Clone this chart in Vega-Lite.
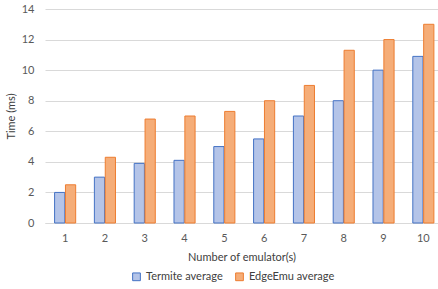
{
  "$schema": "https://vega.github.io/schema/vega-lite/v6.json",
  "width": 393,
  "height": 214,
  "autosize": {"type": "none"},
  "padding": {"left": 45, "top": 9, "right": 0, "bottom": 66},
  "background": "white",
  "config": {
    "view": {"stroke": null},
    "font": "Lato",
    "axis": {"labelFont": "Lato", "titleFont": "Lato", "labelColor": "#595959", "titleColor": "#404040", "labelFontSize": 11, "titleFontSize": 11, "titleFontWeight": "normal"}
  },
  "data": {
    "values": [
      {"n": "1", "series": "Termite average", "t": 2.0},
      {"n": "2", "series": "Termite average", "t": 3.0},
      {"n": "3", "series": "Termite average", "t": 3.9},
      {"n": "4", "series": "Termite average", "t": 4.1},
      {"n": "5", "series": "Termite average", "t": 5.0},
      {"n": "6", "series": "Termite average", "t": 5.5},
      {"n": "7", "series": "Termite average", "t": 7.0},
      {"n": "8", "series": "Termite average", "t": 8.0},
      {"n": "9", "series": "Termite average", "t": 10.0},
      {"n": "10", "series": "Termite average", "t": 10.9},
      {"n": "1", "series": "EdgeEmu average", "t": 2.5},
      {"n": "2", "series": "EdgeEmu average", "t": 4.3},
      {"n": "3", "series": "EdgeEmu average", "t": 6.8},
      {"n": "4", "series": "EdgeEmu average", "t": 7.0},
      {"n": "5", "series": "EdgeEmu average", "t": 7.3},
      {"n": "6", "series": "EdgeEmu average", "t": 8.0},
      {"n": "7", "series": "EdgeEmu average", "t": 9.0},
      {"n": "8", "series": "EdgeEmu average", "t": 11.3},
      {"n": "9", "series": "EdgeEmu average", "t": 12.0},
      {"n": "10", "series": "EdgeEmu average", "t": 13.0}
    ]
  },
  "mark": {"type": "bar", "strokeWidth": 1},
  "encoding": {
    "x": {
      "field": "n", "type": "ordinal", "sort": null,
      "scale": {"paddingInner": 0.47, "paddingOuter": 0.172, "align": 0.7},
      "axis": {"title": "Number of emulator(s)", "labelAngle": 0, "ticks": false, "domain": true, "domainColor": "#d9d9d9", "domainWidth": 1, "labelPadding": 9, "titlePadding": 8, "grid": false}
    },
    "xOffset": {"field": "series", "type": "nominal", "sort": ["Termite average", "EdgeEmu average"], "scale": {"paddingInner": 0.06}},
    "y": {
      "field": "t", "type": "quantitative",
      "scale": {"domain": [0, 14], "nice": false},
      "axis": {"title": "Time (ms)", "values": [0, 2, 4, 6, 8, 10, 12, 14], "ticks": false, "domain": false, "gridColor": "#d9d9d9", "labelPadding": 11, "titlePadding": 5}
    },
    "fill": {
      "field": "series", "type": "nominal",
      "scale": {"domain": ["Termite average", "EdgeEmu average"], "range": ["#b4c4e8", "#f5ad78"]},
      "legend": {
        "title": null, "orient": "none", "direction": "horizontal", "legendX": 86, "legendY": 262,
        "symbolType": "square", "symbolSize": 60, "symbolStrokeWidth": 1,
        "labelFont": "Lato", "labelFontSize": 11, "labelColor": "#404040", "columnPadding": 10
      }
    },
    "stroke": {
      "field": "series", "type": "nominal",
      "scale": {"domain": ["Termite average", "EdgeEmu average"], "range": ["#4472c4", "#ed7d31"]},
      "legend": null
    }
  }
}
